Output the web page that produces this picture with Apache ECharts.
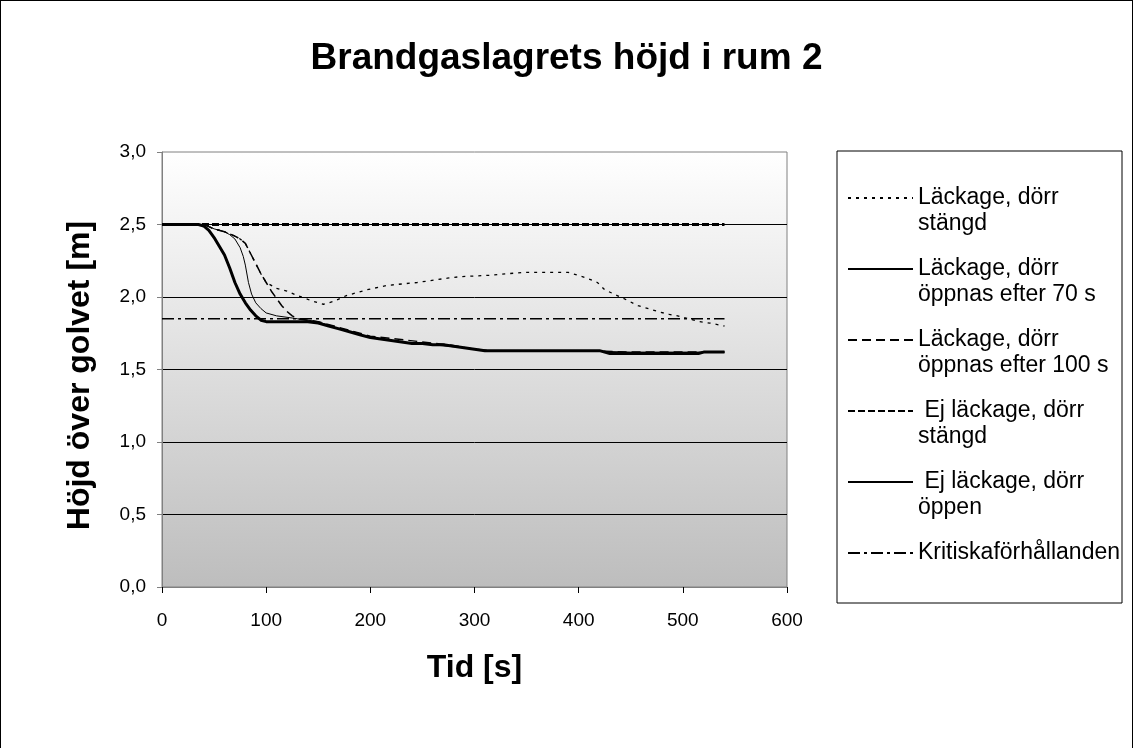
<!DOCTYPE html>
<html>
<head>
<meta charset="utf-8">
<script src="https://cdn.jsdelivr.net/npm/echarts@6/dist/echarts.min.js"></script>
<style>
  html, body { margin: 0; padding: 0; background: #fff; overflow: hidden; }
  #frame { position: absolute; left: 0; top: 0; width: 1133px; height: 750px; box-sizing: border-box; border: 1px solid #000; }
  #main { position: absolute; left: 0; top: 0; width: 1133px; height: 748px; }
</style>
</head>
<body>
<div id="frame"></div>
<div id="main"></div>
<script>
// Läckage, dörr stängd
const tidStangd = [0, 40, 50, 60, 70, 75, 80, 85, 90, 95, 100, 110, 120, 130, 145, 155, 165, 177, 197, 216, 245, 274, 286, 315, 347, 375, 390, 408, 418, 425, 437, 446, 457, 467, 476, 487, 495, 505, 516, 526, 540];
const hojdStangd = [2.5, 2.5, 2.47, 2.45, 2.42, 2.40, 2.37, 2.30, 2.23, 2.16, 2.10, 2.06, 2.04, 2.01, 1.97, 1.95, 1.97, 2.01, 2.05, 2.08, 2.10, 2.13, 2.14, 2.15, 2.17, 2.17, 2.17, 2.13, 2.10, 2.05, 2.01, 1.98, 1.94, 1.92, 1.90, 1.88, 1.87, 1.85, 1.83, 1.82, 1.80];

// Läckage, dörr öppnas efter 70 s
const tid70 = [0, 40, 50, 60, 65, 70, 75, 78, 80, 83, 86, 90, 95, 100, 110, 120, 130, 150, 170, 200, 230, 260, 290, 310, 350, 400, 450, 500, 540];
const hojd70 = [2.5, 2.5, 2.47, 2.45, 2.43, 2.40, 2.34, 2.28, 2.22, 2.10, 2.02, 1.96, 1.92, 1.89, 1.87, 1.86, 1.85, 1.83, 1.78, 1.72, 1.69, 1.67, 1.65, 1.63, 1.63, 1.63, 1.62, 1.62, 1.62];

// Läckage, dörr öppnas efter 100 s
const tid100 = [0, 40, 50, 60, 70, 75, 80, 85, 90, 95, 100, 105, 110, 115, 120, 125, 130, 140, 150, 175, 200, 225, 250, 275, 300, 315, 350, 400, 450, 500, 540];
const hojd100 = [2.5, 2.5, 2.47, 2.45, 2.42, 2.40, 2.37, 2.30, 2.23, 2.16, 2.10, 2.04, 1.99, 1.94, 1.90, 1.87, 1.85, 1.84, 1.83, 1.78, 1.73, 1.71, 1.69, 1.67, 1.64, 1.63, 1.63, 1.63, 1.62, 1.62, 1.62];

// Ej läckage, dörr stängd
const tidEjStangd = [0, 540];
const hojdEjStangd = [2.5, 2.5];

// Ej läckage, dörr öppen
const tidEjOppen = [0, 35, 40, 45, 50, 55, 60, 65, 70, 75, 80, 85, 90, 95, 100, 120, 140, 150, 160, 170, 180, 190, 200, 210, 220, 230, 240, 250, 260, 270, 280, 290, 300, 310, 320, 420, 430, 515, 520, 540];
const hojdEjOppen = [2.5, 2.5, 2.49, 2.46, 2.41, 2.35, 2.29, 2.20, 2.10, 2.02, 1.96, 1.91, 1.87, 1.84, 1.83, 1.83, 1.83, 1.82, 1.80, 1.78, 1.76, 1.74, 1.72, 1.71, 1.70, 1.69, 1.68, 1.68, 1.67, 1.67, 1.66, 1.65, 1.64, 1.63, 1.63, 1.63, 1.61, 1.61, 1.62, 1.62];

// Kritiska förhållanden
const tidKritisk = [0, 540];
const hojdKritisk = [1.85, 1.85];

const serieNamn = [
  'Läckage, dörr stängd',
  'Läckage, dörr öppnas efter 70 s',
  'Läckage, dörr öppnas efter 100 s',
  'Ej läckage, dörr stängd',
  'Ej läckage, dörr öppen',
  'Kritiskaförhållanden'
];
// tom rad först/sist så att linjen hamnar vid första textraden
const legendText = [
  '\nLäckage, dörr\nstängd',
  '\nLäckage, dörr\nöppnas efter 70 s',
  '\nLäckage, dörr\nöppnas efter 100 s',
  '\n Ej läckage, dörr\nstängd',
  '\n Ej läckage, dörr\nöppen',
  '\nKritiskaförhållanden\n'
];

const font = 'Liberation Sans, Arial, sans-serif';

function zip(t, h) {
  return t.map((v, i) => [v, h[i]]);
}

function line(name, t, h, width, type) {
  return {
    name: name,
    type: 'line',
    symbol: 'none',
    data: zip(t, h),
    lineStyle: { color: '#000', width: width, type: type },
    itemStyle: { color: '#000' }
  };
}

const chart = echarts.init(document.getElementById('main'));

const option = {
  animation: false,
  title: {
    text: 'Brandgaslagrets höjd i rum 2',
    left: 'center',
    top: 35,
    textStyle: { fontFamily: font, fontSize: 37, fontWeight: 'bold', color: '#000' }
  },
  legend: {
    orient: 'vertical',
    left: 837,
    top: 151,
    padding: [8, 2, 11, 10],
    itemWidth: 65,
    itemHeight: 10,
    itemGap: -7,
    borderColor: '#000',
    borderWidth: 1,
    itemStyle: { color: 'rgba(0,0,0,0)', borderColor: 'rgba(0,0,0,0)', borderWidth: 0 },
    textStyle: { fontFamily: font, fontSize: 23, lineHeight: 26, color: '#000' },
    formatter: function (name) {
      return legendText[serieNamn.indexOf(name)];
    },
    data: serieNamn
  },
  grid: {
    left: 162,
    top: 152,
    right: 346,
    bottom: 161,
    show: true,
    borderColor: '#808080',
    borderWidth: 1,
    backgroundColor: new echarts.graphic.LinearGradient(0, 0, 0, 1, [
      { offset: 0, color: '#ffffff' },
      { offset: 1, color: '#bdbdbd' }
    ])
  },
  xAxis: {
    type: 'value',
    min: 0,
    max: 600,
    interval: 100,
    name: 'Tid [s]',
    nameLocation: 'middle',
    nameGap: 65,
    nameTextStyle: { fontFamily: font, fontSize: 32, fontWeight: 'bold', color: '#000' },
    axisLine: { show: true, lineStyle: { color: '#808080' } },
    axisTick: { show: true, length: 6, lineStyle: { color: '#000' } },
    axisLabel: { fontFamily: font, fontSize: 19, color: '#000', margin: 24 },
    splitLine: { show: false }
  },
  yAxis: {
    type: 'value',
    min: 0,
    max: 3,
    interval: 0.5,
    name: 'Höjd över golvet [m]',
    nameLocation: 'middle',
    nameGap: 66,
    nameTextStyle: { fontFamily: font, fontSize: 32, fontWeight: 'bold', color: '#000', padding: [0, 12, 0, 0] },
    axisLine: { show: true, lineStyle: { color: '#808080' } },
    axisTick: { show: true, length: 5, lineStyle: { color: '#808080' } },
    axisLabel: {
      fontFamily: font, fontSize: 19, color: '#000', margin: 16,
      formatter: v => v.toFixed(1).replace('.', ',')
    },
    splitLine: { show: true, showMinLine: false, showMaxLine: false, lineStyle: { color: '#000', width: 1 } }
  },
  series: [
    line(serieNamn[0], tidStangd, hojdStangd, 1.3, [3, 5]),
    line(serieNamn[1], tid70, hojd70, 1, 'solid'),
    line(serieNamn[2], tid100, hojd100, 1.5, [9, 5]),
    line(serieNamn[3], tidEjStangd, hojdEjStangd, 3, [7, 3]),
    line(serieNamn[4], tidEjOppen, hojdEjOppen, 3, 'solid'),
    line(serieNamn[5], tidKritisk, hojdKritisk, 1.5, [12, 4, 3, 4])
  ]
};

chart.setOption(option);
</script>
</body>
</html>
